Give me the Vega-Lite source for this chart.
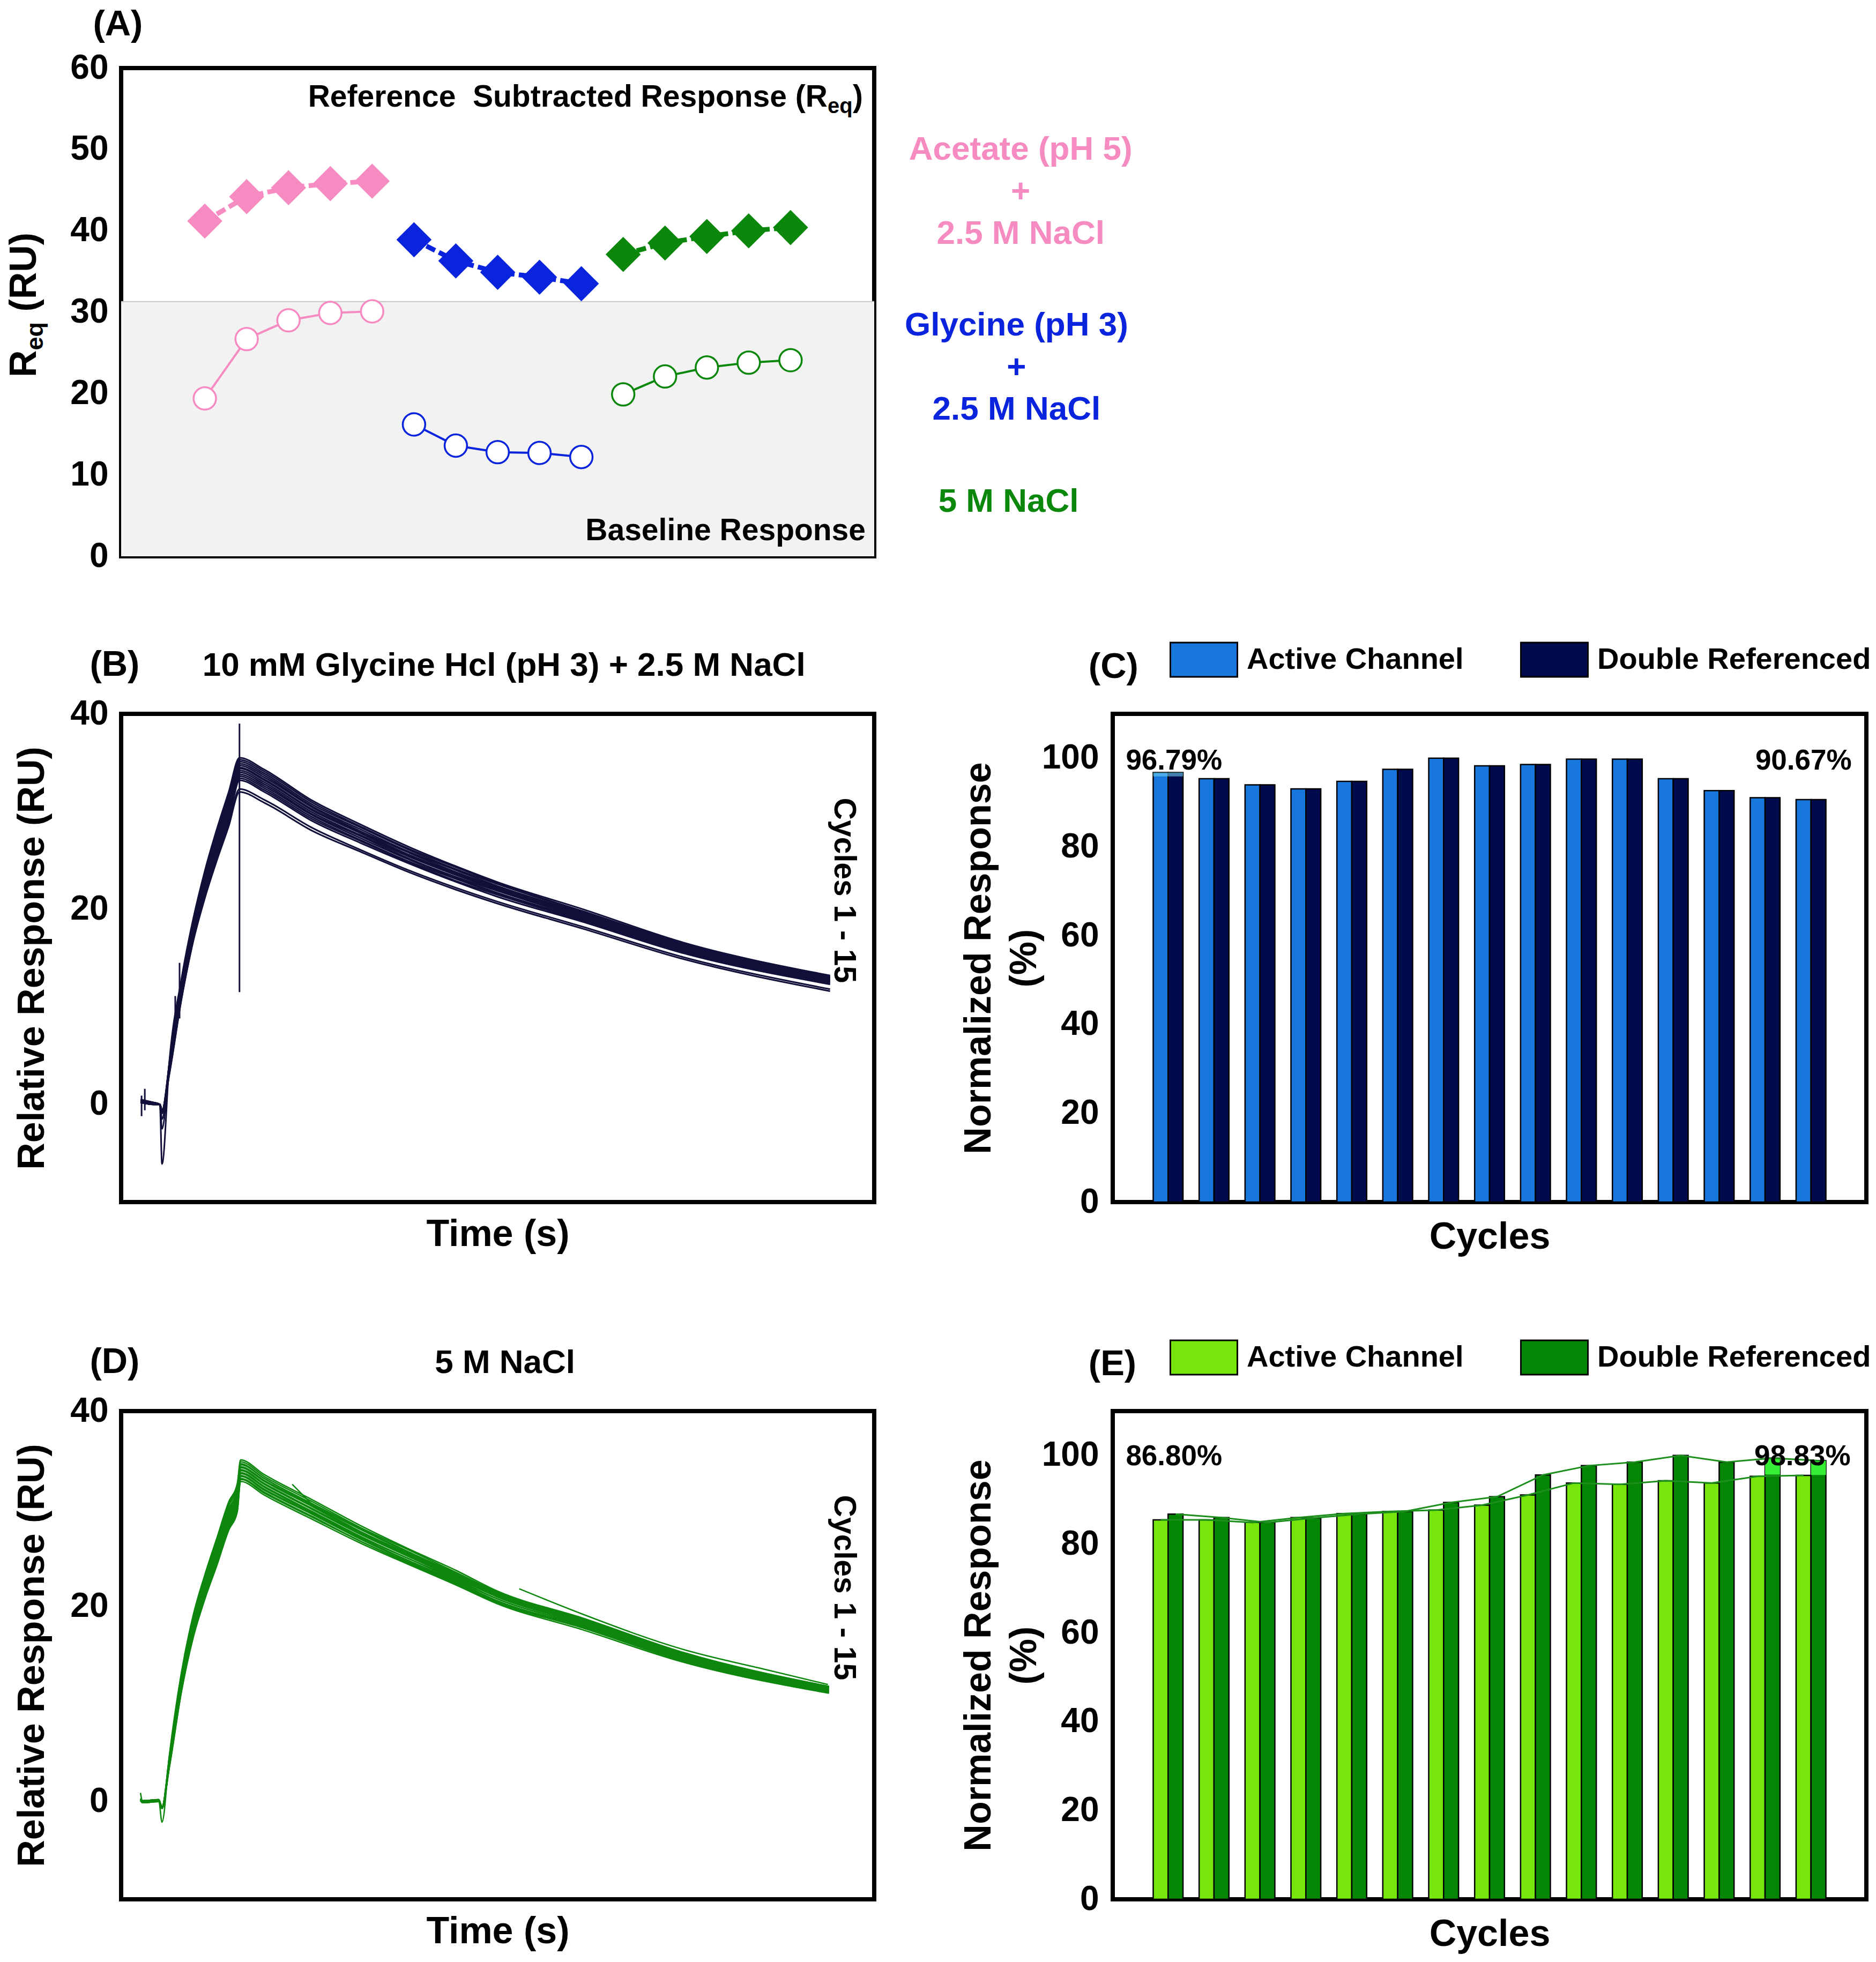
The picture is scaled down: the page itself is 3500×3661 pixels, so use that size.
{
  "$schema": "https://vega.github.io/schema/vega-lite/v6.json",
  "background": "white",
  "padding": {"left": 7, "top": 7, "right": 5, "bottom": 5},
  "columns": 2,
  "spacing": {"row": 100, "column": 445},
  "bounds": "flush",
  "align": "each",
  "resolve": {"scale": {"color": "independent", "stroke": "independent"}, "legend": {"color": "independent", "stroke": "independent"}},
  "config": {
    "font": "Liberation Sans",
    "view": {"stroke": "black", "strokeWidth": 8},
    "axis": {
      "labelFont": "Liberation Sans", "labelFontWeight": "bold", "labelFontSize": 64, "labelColor": "black",
      "titleFont": "Liberation Sans", "titleFontWeight": "bold", "titleFontSize": 70, "titleColor": "black",
      "ticks": false, "tickSize": 0, "domain": false, "grid": false, "labelPadding": 24,
      "labelFlush": false, "labelOverlap": false, "labelBound": false
    },
    "text": {"font": "Liberation Sans", "fontWeight": "bold", "color": "black"},
    "legend": {"labelFont": "Liberation Sans", "labelFontWeight": "bold", "labelColor": "black"}
  },
  "concat": [
    {
      "width": 1405, "height": 911,
      "data": {"values": [
        {"i": 1, "group": "Acetate", "kind": "Reference subtracted", "req": 41.2},
        {"i": 2, "group": "Acetate", "kind": "Reference subtracted", "req": 44.2},
        {"i": 3, "group": "Acetate", "kind": "Reference subtracted", "req": 45.3},
        {"i": 4, "group": "Acetate", "kind": "Reference subtracted", "req": 45.8},
        {"i": 5, "group": "Acetate", "kind": "Reference subtracted", "req": 46.1},
        {"i": 6, "group": "Glycine", "kind": "Reference subtracted", "req": 38.9},
        {"i": 7, "group": "Glycine", "kind": "Reference subtracted", "req": 36.3},
        {"i": 8, "group": "Glycine", "kind": "Reference subtracted", "req": 34.9},
        {"i": 9, "group": "Glycine", "kind": "Reference subtracted", "req": 34.3},
        {"i": 10, "group": "Glycine", "kind": "Reference subtracted", "req": 33.5},
        {"i": 11, "group": "NaCl", "kind": "Reference subtracted", "req": 37.1},
        {"i": 12, "group": "NaCl", "kind": "Reference subtracted", "req": 38.5},
        {"i": 13, "group": "NaCl", "kind": "Reference subtracted", "req": 39.3},
        {"i": 14, "group": "NaCl", "kind": "Reference subtracted", "req": 40.0},
        {"i": 15, "group": "NaCl", "kind": "Reference subtracted", "req": 40.4},
        {"i": 1, "group": "Acetate", "kind": "Baseline", "req": 19.4},
        {"i": 2, "group": "Acetate", "kind": "Baseline", "req": 26.7},
        {"i": 3, "group": "Acetate", "kind": "Baseline", "req": 29.0},
        {"i": 4, "group": "Acetate", "kind": "Baseline", "req": 29.9},
        {"i": 5, "group": "Acetate", "kind": "Baseline", "req": 30.1},
        {"i": 6, "group": "Glycine", "kind": "Baseline", "req": 16.2},
        {"i": 7, "group": "Glycine", "kind": "Baseline", "req": 13.6},
        {"i": 8, "group": "Glycine", "kind": "Baseline", "req": 12.8},
        {"i": 9, "group": "Glycine", "kind": "Baseline", "req": 12.7},
        {"i": 10, "group": "Glycine", "kind": "Baseline", "req": 12.2},
        {"i": 11, "group": "NaCl", "kind": "Baseline", "req": 19.9},
        {"i": 12, "group": "NaCl", "kind": "Baseline", "req": 22.1},
        {"i": 13, "group": "NaCl", "kind": "Baseline", "req": 23.2},
        {"i": 14, "group": "NaCl", "kind": "Baseline", "req": 23.8},
        {"i": 15, "group": "NaCl", "kind": "Baseline", "req": 24.1}
      ]},
      "layer": [
        {
          "data": {"values": [{}]},
          "mark": {"type": "rect", "color": "#F1F2F1"},
          "encoding": {
            "x": {"datum": -1, "type": "quantitative", "scale": {"domain": [-1, 17], "nice": false, "zero": false}, "axis": null},
            "x2": {"datum": 17},
            "y": {"datum": 0, "type": "quantitative", "scale": {"domain": [0, 60], "nice": false}, "axis": {"values": [0, 10, 20, 30, 40, 50, 60], "title": null}},
            "y2": {"datum": 31.3}
          }
        },
        {
          "data": {"values": [{}]},
          "mark": {"type": "rule", "color": "#C6C6C6", "strokeWidth": 2},
          "encoding": {
            "x": {"datum": -1, "type": "quantitative"},
            "x2": {"datum": 17},
            "y": {"datum": 31.3, "type": "quantitative"}
          }
        },
        {
          "transform": [{"filter": "datum.kind === 'Reference subtracted'"}],
          "mark": {"type": "line", "strokeWidth": 9, "strokeDash": [18, 8]},
          "encoding": {
            "x": {"field": "i", "type": "quantitative", "title": null},
            "y": {"field": "req", "type": "quantitative", "title": null},
            "color": {"field": "group", "type": "nominal", "scale": {"domain": ["Acetate", "Glycine", "NaCl"], "range": ["#F68BC1", "#0A24DE", "#0B870B"]}, "legend": null}
          }
        },
        {
          "transform": [{"filter": "datum.kind === 'Baseline'"}],
          "mark": {"type": "line", "strokeWidth": 4},
          "encoding": {
            "x": {"field": "i", "type": "quantitative", "title": null},
            "y": {"field": "req", "type": "quantitative", "title": null},
            "color": {"field": "group", "type": "nominal", "scale": {"domain": ["Acetate", "Glycine", "NaCl"], "range": ["#F68BC1", "#0A24DE", "#0B870B"]}, "legend": null}
          }
        },
        {
          "transform": [{"filter": "datum.kind === 'Reference subtracted'"}],
          "mark": {"type": "point", "shape": "diamond", "size": 4300, "filled": true, "opacity": 1},
          "encoding": {
            "x": {"field": "i", "type": "quantitative", "title": null},
            "y": {"field": "req", "type": "quantitative", "title": null},
            "color": {"field": "group", "type": "nominal", "scale": {"domain": ["Acetate", "Glycine", "NaCl"], "range": ["#F68BC1", "#0A24DE", "#0B870B"]}, "legend": null}
          }
        },
        {
          "transform": [{"filter": "datum.kind === 'Baseline'"}],
          "mark": {"type": "point", "shape": "circle", "size": 1750, "filled": true, "fill": "white", "strokeWidth": 3.5, "opacity": 1},
          "encoding": {
            "x": {"field": "i", "type": "quantitative", "title": null},
            "y": {"field": "req", "type": "quantitative", "title": null},
            "stroke": {"field": "group", "type": "nominal", "scale": {"domain": ["Acetate", "Glycine", "NaCl"], "range": ["#F68BC1", "#0A24DE", "#0B870B"]}, "legend": null}
          }
        },
        {
          "data": {"values": [{}]},
          "mark": {"type": "text", "text": "(A)", "fontSize": 67, "align": "left", "baseline": "alphabetic"},
          "encoding": {"x": {"datum": -1.674}, "y": {"datum": 64.04}}
        },
        {
          "data": {"values": [{}]},
          "mark": {"type": "text", "text": ["Acetate (pH 5)", "+", "2.5 M NaCl"], "fontSize": 62, "lineHeight": 78.5, "align": "center", "baseline": "alphabetic", "color": "#F68BC1"},
          "encoding": {"x": {"datum": 20.5}, "y": {"datum": 48.73}}
        },
        {
          "data": {"values": [{}]},
          "mark": {"type": "text", "text": ["Glycine (pH 3)", "+", "2.5 M NaCl"], "fontSize": 62, "lineHeight": 78.5, "align": "center", "baseline": "alphabetic", "color": "#0A24DE"},
          "encoding": {"x": {"datum": 20.4}, "y": {"datum": 27.11}}
        },
        {
          "data": {"values": [{}]},
          "mark": {"type": "text", "text": "5 M NaCl", "fontSize": 62, "align": "center", "baseline": "alphabetic", "color": "#0B870B"},
          "encoding": {"x": {"datum": 20.21}, "y": {"datum": 5.49}}
        },
        {
          "data": {"values": [{}]},
          "mark": {"type": "text", "text": "Reference\u00a0 Subtracted Response (R", "fontSize": 57, "align": "right", "baseline": "alphabetic"},
          "encoding": {"x": {"datum": 15.885}, "y": {"datum": 55.26}}
        },
        {
          "data": {"values": [{}]},
          "mark": {"type": "text", "text": "eq", "fontSize": 40, "align": "left", "baseline": "alphabetic", "dy": 12},
          "encoding": {"x": {"datum": 15.885}, "y": {"datum": 55.26}}
        },
        {
          "data": {"values": [{}]},
          "mark": {"type": "text", "text": ")", "fontSize": 57, "align": "left", "baseline": "alphabetic", "dx": 47},
          "encoding": {"x": {"datum": 15.885}, "y": {"datum": 55.26}}
        },
        {
          "data": {"values": [{}]},
          "mark": {"type": "text", "text": "Baseline Response", "fontSize": 57, "align": "right", "baseline": "alphabetic"},
          "encoding": {"x": {"datum": 16.795}, "y": {"datum": 2.0}}
        },
        {
          "data": {"values": [{}]},
          "mark": {"type": "text", "text": "R", "fontSize": 70, "angle": 270, "align": "left", "baseline": "alphabetic"},
          "encoding": {"x": {"datum": -3.037}, "y": {"datum": 21.99}}
        },
        {
          "data": {"values": [{}]},
          "mark": {"type": "text", "text": "eq", "fontSize": 45, "angle": 270, "align": "left", "baseline": "alphabetic", "dx": 50.5, "dy": 13},
          "encoding": {"x": {"datum": -3.037}, "y": {"datum": 21.99}}
        },
        {
          "data": {"values": [{}]},
          "mark": {"type": "text", "text": "(RU)", "fontSize": 70, "angle": 270, "align": "left", "baseline": "alphabetic", "dx": 122.5},
          "encoding": {"x": {"datum": -3.037}, "y": {"datum": 21.99}}
        }
      ]
    },
    {
      "width": 10, "height": 10, "view": {"stroke": null},
      "data": {"values": [{}]}, "mark": {"type": "point", "opacity": 0}
    },
    {
      "width": 10, "height": 94, "view": {"stroke": null},
      "data": {"values": [{}]}, "mark": {"type": "point", "opacity": 0}
    },
    {
      "width": 10, "height": 94, "view": {"stroke": null},
      "data": {"values": [{}]}, "mark": {"type": "point", "opacity": 0}
    },
    {
      "width": 1405, "height": 911,
      "layer": [
        {
          "data": {"values": [
            {"t": 18, "c1": 0.5, "c2": 0.3, "c3": 0.2, "c4": 0.4, "c5": 0.3, "c6": 0.2, "c7": 0.3, "c8": 0.4, "c9": 0.2, "c10": 0.3, "c11": 0.3, "c12": 0.2, "c13": 0.4, "c14": 0.3, "c15": 0.2},
            {"t": 30, "c1": 0.2, "c2": 0.1, "c3": 0.0, "c4": 0.1, "c5": 0.2, "c6": 0.0, "c7": 0.1, "c8": 0.1, "c9": 0.0, "c10": 0.2, "c11": 0.1, "c12": 0.0, "c13": 0.1, "c14": 0.1, "c15": 0.0},
            {"t": 36, "c1": 0.0, "c2": 0.0, "c3": 0.0, "c4": 0.0, "c5": 0.0, "c6": 0.0, "c7": 0.0, "c8": 0.0, "c9": 0.0, "c10": 0.0, "c11": 0.0, "c12": 0.0, "c13": 0.0, "c14": 0.0, "c15": 0.0},
            {"t": 38, "c1": -6.1, "c2": -2.5, "c3": -1.5, "c4": -0.8, "c5": -0.6, "c6": -0.9, "c7": -0.7, "c8": -0.8, "c9": -0.6, "c10": -0.9, "c11": -0.7, "c12": -0.8, "c13": -0.6, "c14": -0.9, "c15": -0.7},
            {"t": 45, "c1": 4.6, "c2": 4.5, "c3": 4.4, "c4": 4.3, "c5": 4.2, "c6": 4.1, "c7": 4.0, "c8": 3.9, "c9": 3.8, "c10": 3.7, "c11": 3.6, "c12": 3.5, "c13": 3.4, "c14": 3.3, "c15": 3.2},
            {"t": 56, "c1": 12.8, "c2": 12.6, "c3": 12.5, "c4": 12.3, "c5": 12.2, "c6": 12.0, "c7": 11.9, "c8": 11.7, "c9": 11.6, "c10": 11.4, "c11": 11.3, "c12": 11.1, "c13": 11.0, "c14": 10.8, "c15": 10.7},
            {"t": 67, "c1": 19.0, "c2": 18.8, "c3": 18.7, "c4": 18.5, "c5": 18.4, "c6": 18.2, "c7": 18.0, "c8": 17.9, "c9": 17.7, "c10": 17.5, "c11": 17.4, "c12": 17.2, "c13": 17.0, "c14": 16.8, "c15": 16.7},
            {"t": 78, "c1": 24.0, "c2": 23.8, "c3": 23.6, "c4": 23.4, "c5": 23.2, "c6": 23.0, "c7": 22.8, "c8": 22.6, "c9": 22.4, "c10": 22.2, "c11": 22.0, "c12": 21.8, "c13": 21.6, "c14": 21.4, "c15": 21.2},
            {"t": 89, "c1": 28.2, "c2": 28.0, "c3": 27.8, "c4": 27.5, "c5": 27.3, "c6": 27.1, "c7": 26.9, "c8": 26.6, "c9": 26.4, "c10": 26.2, "c11": 26.0, "c12": 25.7, "c13": 25.5, "c14": 25.3, "c15": 25.0},
            {"t": 100, "c1": 32.0, "c2": 31.7, "c3": 31.5, "c4": 31.2, "c5": 31.0, "c6": 30.7, "c7": 30.5, "c8": 30.2, "c9": 30.0, "c10": 29.7, "c11": 29.5, "c12": 29.2, "c13": 29.0, "c14": 28.7, "c15": 28.5},
            {"t": 110, "c1": 35.5, "c2": 35.3, "c3": 35.1, "c4": 34.9, "c5": 34.7, "c6": 34.5, "c7": 34.4, "c8": 34.2, "c9": 34.0, "c10": 33.8, "c11": 33.6, "c12": 33.4, "c13": 33.2, "c14": 32.3, "c15": 32.0},
            {"t": 133, "c1": 34.3, "c2": 34.1, "c3": 33.9, "c4": 33.7, "c5": 33.5, "c6": 33.3, "c7": 33.2, "c8": 33.0, "c9": 32.8, "c10": 32.6, "c11": 32.4, "c12": 32.2, "c13": 32.0, "c14": 31.2, "c15": 30.9},
            {"t": 178, "c1": 31.1, "c2": 30.9, "c3": 30.7, "c4": 30.5, "c5": 30.4, "c6": 30.2, "c7": 30.1, "c8": 29.9, "c9": 29.7, "c10": 29.6, "c11": 29.4, "c12": 29.2, "c13": 29.0, "c14": 28.3, "c15": 28.0},
            {"t": 222, "c1": 28.7, "c2": 28.5, "c3": 28.4, "c4": 28.2, "c5": 28.0, "c6": 27.9, "c7": 27.8, "c8": 27.6, "c9": 27.5, "c10": 27.3, "c11": 27.1, "c12": 27.0, "c13": 26.8, "c14": 26.1, "c15": 25.9},
            {"t": 267, "c1": 26.4, "c2": 26.2, "c3": 26.1, "c4": 25.9, "c5": 25.8, "c6": 25.6, "c7": 25.5, "c8": 25.4, "c9": 25.2, "c10": 25.1, "c11": 24.9, "c12": 24.8, "c13": 24.7, "c14": 24.0, "c15": 23.8},
            {"t": 311, "c1": 24.4, "c2": 24.3, "c3": 24.1, "c4": 24.0, "c5": 23.8, "c6": 23.7, "c7": 23.6, "c8": 23.5, "c9": 23.3, "c10": 23.2, "c11": 23.1, "c12": 22.9, "c13": 22.8, "c14": 22.2, "c15": 22.0},
            {"t": 349, "c1": 22.8, "c2": 22.7, "c3": 22.6, "c4": 22.4, "c5": 22.3, "c6": 22.2, "c7": 22.1, "c8": 22.0, "c9": 21.9, "c10": 21.7, "c11": 21.6, "c12": 21.5, "c13": 21.3, "c14": 20.8, "c15": 20.6},
            {"t": 429, "c1": 20.0, "c2": 19.8, "c3": 19.7, "c4": 19.6, "c5": 19.5, "c6": 19.4, "c7": 19.3, "c8": 19.2, "c9": 19.1, "c10": 19.0, "c11": 18.9, "c12": 18.8, "c13": 18.7, "c14": 18.2, "c15": 18.0},
            {"t": 522, "c1": 16.6, "c2": 16.5, "c3": 16.4, "c4": 16.3, "c5": 16.2, "c6": 16.1, "c7": 16.0, "c8": 16.0, "c9": 15.9, "c10": 15.8, "c11": 15.7, "c12": 15.6, "c13": 15.5, "c14": 15.1, "c15": 14.9},
            {"t": 659, "c1": 13.2, "c2": 13.1, "c3": 13.0, "c4": 13.0, "c5": 12.9, "c6": 12.8, "c7": 12.8, "c8": 12.7, "c9": 12.6, "c10": 12.6, "c11": 12.5, "c12": 12.4, "c13": 12.3, "c14": 11.8, "c15": 11.6}
          ]},
          "transform": [{"fold": ["c1", "c2", "c3", "c4", "c5", "c6", "c7", "c8", "c9", "c10", "c11", "c12", "c13", "c14", "c15"], "as": ["cycle", "ru"]}],
          "mark": {"type": "line", "color": "#10103A", "strokeWidth": 3, "interpolate": "monotone"},
          "encoding": {
            "x": {"field": "t", "type": "quantitative", "title": "Time (s)", "scale": {"domain": [0, 700], "nice": false, "zero": false}, "axis": {"labels": false, "titlePadding": 26}},
            "y": {"field": "ru", "type": "quantitative", "title": "Relative Response (RU)", "scale": {"domain": [-10, 40], "nice": false}, "axis": {"values": [0, 20, 40], "titlePadding": 34}},
            "detail": {"field": "cycle"}
          }
        },
        {
          "data": {"values": [
            {"t": 110, "lo": 11.5, "hi": 39.0},
            {"t": 54.3, "lo": 8.8, "hi": 14.5},
            {"t": 50.3, "lo": 8.6, "hi": 11.1},
            {"t": 19, "lo": -1.2, "hi": 0.9},
            {"t": 22, "lo": -0.6, "hi": 1.6}
          ]},
          "mark": {"type": "rule", "color": "#10103A", "strokeWidth": 3},
          "encoding": {
            "x": {"field": "t", "type": "quantitative", "title": "Time (s)"},
            "y": {"field": "lo", "type": "quantitative", "title": "Relative Response (RU)"},
            "y2": {"field": "hi"}
          }
        },
        {
          "data": {"values": [{}]},
          "mark": {"type": "text", "text": "(B)", "fontSize": 67, "align": "left", "baseline": "alphabetic"},
          "encoding": {"x": {"datum": -29.2}, "y": {"datum": 43.9}}
        },
        {
          "data": {"values": [{}]},
          "mark": {"type": "text", "text": "10 mM Glycine Hcl (pH 3) + 2.5 M NaCl", "fontSize": 62, "align": "center", "baseline": "alphabetic"},
          "encoding": {"x": {"datum": 355.8}, "y": {"datum": 43.9}}
        },
        {
          "data": {"values": [{}]},
          "mark": {"type": "text", "text": "Cycles 1 - 15", "fontSize": 57, "angle": 90, "align": "left", "baseline": "alphabetic"},
          "encoding": {"x": {"datum": 663}, "y": {"datum": 31.39}}
        }
      ]
    },
    {
      "width": 1406, "height": 911,
      "data": {"values": [
        {"cycle": 1, "channel": "Active Channel", "value": 96.79}, {"cycle": 1, "channel": "Double Referenced", "value": 96.79},
        {"cycle": 2, "channel": "Active Channel", "value": 95.4}, {"cycle": 2, "channel": "Double Referenced", "value": 95.4},
        {"cycle": 3, "channel": "Active Channel", "value": 94.0}, {"cycle": 3, "channel": "Double Referenced", "value": 94.0},
        {"cycle": 4, "channel": "Active Channel", "value": 93.1}, {"cycle": 4, "channel": "Double Referenced", "value": 93.1},
        {"cycle": 5, "channel": "Active Channel", "value": 94.8}, {"cycle": 5, "channel": "Double Referenced", "value": 94.8},
        {"cycle": 6, "channel": "Active Channel", "value": 97.5}, {"cycle": 6, "channel": "Double Referenced", "value": 97.5},
        {"cycle": 7, "channel": "Active Channel", "value": 100.0}, {"cycle": 7, "channel": "Double Referenced", "value": 100.0},
        {"cycle": 8, "channel": "Active Channel", "value": 98.3}, {"cycle": 8, "channel": "Double Referenced", "value": 98.3},
        {"cycle": 9, "channel": "Active Channel", "value": 98.6}, {"cycle": 9, "channel": "Double Referenced", "value": 98.6},
        {"cycle": 10, "channel": "Active Channel", "value": 99.8}, {"cycle": 10, "channel": "Double Referenced", "value": 99.8},
        {"cycle": 11, "channel": "Active Channel", "value": 99.8}, {"cycle": 11, "channel": "Double Referenced", "value": 99.8},
        {"cycle": 12, "channel": "Active Channel", "value": 95.4}, {"cycle": 12, "channel": "Double Referenced", "value": 95.4},
        {"cycle": 13, "channel": "Active Channel", "value": 92.7}, {"cycle": 13, "channel": "Double Referenced", "value": 92.7},
        {"cycle": 14, "channel": "Active Channel", "value": 91.1}, {"cycle": 14, "channel": "Double Referenced", "value": 91.1},
        {"cycle": 15, "channel": "Active Channel", "value": 90.67}, {"cycle": 15, "channel": "Double Referenced", "value": 90.67}
      ]},
      "layer": [
        {
          "transform": [{"filter": "datum.channel === 'Active Channel'"}],
          "mark": {"type": "bar", "width": 27.8, "xOffset": -13.9, "stroke": "black", "strokeWidth": 2.5},
          "encoding": {
            "x": {"field": "cycle", "type": "quantitative", "title": "Cycles", "scale": {"domain": [-0.1473, 16.147], "nice": false, "zero": false}, "axis": {"labels": false, "titlePadding": 31}},
            "y": {"field": "value", "type": "quantitative", "title": ["Normalized Response", "(%)"], "scale": {"domain": [0, 110], "nice": false}, "axis": {"values": [0, 20, 40, 60, 80, 100], "titlePadding": -4, "titleLineHeight": 85, "labelPadding": 26}},
            "color": {"field": "channel", "type": "nominal", "scale": {"domain": ["Active Channel", "Double Referenced"], "range": ["#1777DD", "#000A4C"]},
              "legend": {"orient": "none", "legendX": 106, "legendY": -165, "direction": "horizontal", "title": null, "symbolType": "M-1,-0.512H1V0.512H-1Z", "symbolSize": 15625, "symbolStrokeColor": "black", "symbolStrokeWidth": 3, "symbolOpacity": 1, "labelFontSize": 56, "labelOffset": 16, "columnPadding": 100, "labelLimit": 1000, "padding": 0}}
          }
        },
        {
          "transform": [{"filter": "datum.channel === 'Double Referenced'"}],
          "mark": {"type": "bar", "width": 27.8, "xOffset": 13.9, "stroke": "black", "strokeWidth": 2.5},
          "encoding": {
            "x": {"field": "cycle", "type": "quantitative", "title": "Cycles"},
            "y": {"field": "value", "type": "quantitative", "title": ["Normalized Response", "(%)"]},
            "color": {"field": "channel", "type": "nominal", "scale": {"domain": ["Active Channel", "Double Referenced"], "range": ["#1777DD", "#000A4C"]}}
          }
        },
        {
          "data": {"values": [{"cycle": 1, "lo": 95.9, "hi": 96.79}]},
          "mark": {"type": "bar", "width": 55.6, "color": "#6CCFF2", "opacity": 0.6},
          "encoding": {
            "x": {"field": "cycle", "type": "quantitative", "title": "Cycles"},
            "y": {"field": "lo", "type": "quantitative", "title": ["Normalized Response", "(%)"]},
            "y2": {"field": "hi"}
          }
        },
        {
          "data": {"values": [{}]},
          "mark": {"type": "text", "text": "(C)", "fontSize": 67, "align": "left", "baseline": "alphabetic"},
          "encoding": {"x": {"datum": -0.733}, "y": {"datum": 118.1}}
        },
        {
          "data": {"values": [{}]},
          "mark": {"type": "text", "text": "96.79%", "fontSize": 53, "align": "center", "baseline": "alphabetic"},
          "encoding": {"x": {"datum": 1.128}, "y": {"datum": 97.4}}
        },
        {
          "data": {"values": [{}]},
          "mark": {"type": "text", "text": "90.67%", "fontSize": 53, "align": "center", "baseline": "alphabetic"},
          "encoding": {"x": {"datum": 14.837}, "y": {"datum": 97.4}}
        }
      ]
    },
    {
      "width": 10, "height": 190, "view": {"stroke": null},
      "data": {"values": [{}]}, "mark": {"type": "point", "opacity": 0}
    },
    {
      "width": 10, "height": 190, "view": {"stroke": null},
      "data": {"values": [{}]}, "mark": {"type": "point", "opacity": 0}
    },
    {
      "width": 1405, "height": 911,
      "layer": [
        {
          "data": {"values": [
            {"t": 18, "c1": 0.9, "c2": 0.2, "c3": 0.3, "c4": 0.2, "c5": 0.1, "c6": 0.2, "c7": 0.3, "c8": 0.2, "c9": 0.1, "c10": 0.2, "c11": 0.3, "c12": 0.2, "c13": 0.1, "c14": 0.2, "c15": 0.3},
            {"t": 20, "c1": 0.0, "c2": 0.0, "c3": 0.1, "c4": 0.0, "c5": -0.1, "c6": 0.0, "c7": 0.1, "c8": 0.0, "c9": -0.1, "c10": 0.0, "c11": 0.1, "c12": 0.0, "c13": -0.1, "c14": 0.0, "c15": 0.1},
            {"t": 35, "c1": 0.1, "c2": 0.1, "c3": 0.2, "c4": 0.1, "c5": 0.0, "c6": 0.1, "c7": 0.2, "c8": 0.1, "c9": 0.0, "c10": 0.1, "c11": 0.2, "c12": 0.1, "c13": 0.0, "c14": 0.1, "c15": 0.2},
            {"t": 38, "c1": -2.1, "c2": -0.6, "c3": -0.5, "c4": -0.7, "c5": -0.6, "c6": -0.5, "c7": -0.7, "c8": -0.6, "c9": -0.5, "c10": -0.7, "c11": -0.6, "c12": -0.5, "c13": -0.7, "c14": -0.6, "c15": -0.5},
            {"t": 45, "c1": 4.9, "c2": 4.8, "c3": 4.7, "c4": 4.6, "c5": 4.5, "c6": 4.4, "c7": 4.3, "c8": 4.3, "c9": 4.2, "c10": 4.1, "c11": 4.0, "c12": 3.9, "c13": 3.8, "c14": 3.7, "c15": 3.6},
            {"t": 56, "c1": 13.2, "c2": 13.0, "c3": 12.9, "c4": 12.7, "c5": 12.6, "c6": 12.4, "c7": 12.3, "c8": 12.2, "c9": 12.0, "c10": 11.9, "c11": 11.7, "c12": 11.6, "c13": 11.5, "c14": 11.3, "c15": 11.2},
            {"t": 67, "c1": 19.1, "c2": 18.9, "c3": 18.8, "c4": 18.6, "c5": 18.5, "c6": 18.3, "c7": 18.1, "c8": 18.0, "c9": 17.8, "c10": 17.7, "c11": 17.5, "c12": 17.3, "c13": 17.2, "c14": 17.0, "c15": 16.8},
            {"t": 78, "c1": 23.3, "c2": 23.1, "c3": 22.9, "c4": 22.8, "c5": 22.6, "c6": 22.4, "c7": 22.2, "c8": 22.1, "c9": 21.9, "c10": 21.7, "c11": 21.5, "c12": 21.4, "c13": 21.2, "c14": 21.0, "c15": 20.8},
            {"t": 89, "c1": 27.0, "c2": 26.8, "c3": 26.6, "c4": 26.4, "c5": 26.2, "c6": 26.0, "c7": 25.8, "c8": 25.6, "c9": 25.4, "c10": 25.2, "c11": 25.0, "c12": 24.8, "c13": 24.6, "c14": 24.4, "c15": 24.2},
            {"t": 100, "c1": 30.7, "c2": 30.5, "c3": 30.3, "c4": 30.0, "c5": 29.8, "c6": 29.6, "c7": 29.4, "c8": 29.2, "c9": 29.0, "c10": 28.8, "c11": 28.6, "c12": 28.4, "c13": 28.2, "c14": 28.0, "c15": 27.8},
            {"t": 108, "c1": 32.6, "c2": 32.4, "c3": 32.2, "c4": 32.0, "c5": 31.8, "c6": 31.5, "c7": 31.3, "c8": 31.1, "c9": 30.9, "c10": 30.7, "c11": 30.5, "c12": 30.3, "c13": 30.1, "c14": 29.9, "c15": 29.7},
            {"t": 111, "c1": 35.0, "c2": 34.8, "c3": 34.6, "c4": 34.5, "c5": 34.3, "c6": 34.2, "c7": 34.0, "c8": 33.9, "c9": 33.7, "c10": 33.6, "c11": 33.4, "c12": 33.3, "c13": 33.1, "c14": 33.0, "c15": 32.8},
            {"t": 133, "c1": 33.5, "c2": 33.3, "c3": 33.1, "c4": 33.1, "c5": 32.9, "c6": 32.8, "c7": 32.6, "c8": 32.5, "c9": 32.3, "c10": 32.2, "c11": 32.0, "c12": 31.9, "c13": 31.7, "c14": 31.6, "c15": 31.4},
            {"t": 178, "c1": 30.9, "c2": 30.7, "c3": 30.5, "c4": 30.4, "c5": 30.3, "c6": 30.2, "c7": 30.0, "c8": 29.9, "c9": 29.7, "c10": 29.6, "c11": 29.5, "c12": 29.4, "c13": 29.2, "c14": 29.1, "c15": 28.9},
            {"t": 222, "c1": 28.3, "c2": 28.1, "c3": 28.0, "c4": 27.9, "c5": 27.7, "c6": 27.6, "c7": 27.5, "c8": 27.4, "c9": 27.2, "c10": 27.1, "c11": 27.0, "c12": 26.9, "c13": 26.7, "c14": 26.7, "c15": 26.5},
            {"t": 267, "c1": 25.9, "c2": 25.8, "c3": 25.6, "c4": 25.5, "c5": 25.4, "c6": 25.3, "c7": 25.2, "c8": 25.1, "c9": 24.9, "c10": 24.9, "c11": 24.7, "c12": 24.6, "c13": 24.5, "c14": 24.4, "c15": 24.3},
            {"t": 311, "c1": 23.7, "c2": 23.5, "c3": 23.4, "c4": 23.3, "c5": 23.2, "c6": 23.1, "c7": 23.0, "c8": 22.9, "c9": 22.8, "c10": 22.7, "c11": 22.6, "c12": 22.5, "c13": 22.4, "c14": 22.3, "c15": 22.2},
            {"t": 349, "c1": 21.6, "c2": 21.5, "c3": 21.4, "c4": 21.3, "c5": 21.2, "c6": 21.1, "c7": 21.0, "c8": 21.0, "c9": 20.8, "c10": 20.8, "c11": 20.6, "c12": 20.6, "c13": 20.5, "c14": 20.4, "c15": 20.3},
            {"t": 429, "c1": 18.8, "c2": 18.7, "c3": 18.6, "c4": 18.6, "c5": 18.5, "c6": 18.4, "c7": 18.3, "c8": 18.2, "c9": 18.1, "c10": 18.1, "c11": 18.0, "c12": 17.9, "c13": 17.8, "c14": 17.8, "c15": 17.6},
            {"t": 522, "c1": 15.3, "c2": 15.2, "c3": 15.1, "c4": 15.1, "c5": 15.0, "c6": 14.9, "c7": 14.9, "c8": 14.8, "c9": 14.7, "c10": 14.7, "c11": 14.6, "c12": 14.6, "c13": 14.5, "c14": 14.4, "c15": 14.3},
            {"t": 658, "c1": 11.8, "c2": 11.8, "c3": 11.7, "c4": 11.7, "c5": 11.6, "c6": 11.6, "c7": 11.5, "c8": 11.5, "c9": 11.4, "c10": 11.4, "c11": 11.3, "c12": 11.3, "c13": 11.2, "c14": 11.2, "c15": 11.1}
          ]},
          "transform": [{"fold": ["c1", "c2", "c3", "c4", "c5", "c6", "c7", "c8", "c9", "c10", "c11", "c12", "c13", "c14", "c15"], "as": ["cycle", "ru"]}],
          "mark": {"type": "line", "color": "#0E870E", "strokeWidth": 2.6, "interpolate": "monotone"},
          "encoding": {
            "x": {"field": "t", "type": "quantitative", "title": "Time (s)", "scale": {"domain": [0, 700], "nice": false, "zero": false}, "axis": {"labels": false, "titlePadding": 26}},
            "y": {"field": "ru", "type": "quantitative", "title": "Relative Response (RU)", "scale": {"domain": [-10, 40], "nice": false}, "axis": {"values": [0, 20, 40], "titlePadding": 34}},
            "detail": {"field": "cycle"}
          }
        },
        {
          "data": {"values": [
            {"seg": "a", "t": 159, "ru": 32.5}, {"seg": "a", "t": 168, "ru": 31.5}, {"seg": "a", "t": 176, "ru": 30.6},
            {"seg": "b", "t": 370, "ru": 21.8}, {"seg": "b", "t": 429, "ru": 19.2}, {"seg": "b", "t": 522, "ru": 15.6}, {"seg": "b", "t": 600, "ru": 13.5}, {"seg": "b", "t": 657, "ru": 12.0}
          ]},
          "mark": {"type": "line", "color": "#0E870E", "strokeWidth": 2.5, "interpolate": "monotone"},
          "encoding": {
            "x": {"field": "t", "type": "quantitative", "title": "Time (s)"},
            "y": {"field": "ru", "type": "quantitative", "title": "Relative Response (RU)"},
            "detail": {"field": "seg"}
          }
        },
        {
          "data": {"values": [{}]},
          "mark": {"type": "text", "text": "(D)", "fontSize": 67, "align": "left", "baseline": "alphabetic"},
          "encoding": {"x": {"datum": -29.2}, "y": {"datum": 43.9}}
        },
        {
          "data": {"values": [{}]},
          "mark": {"type": "text", "text": "5 M NaCl", "fontSize": 62, "align": "center", "baseline": "alphabetic"},
          "encoding": {"x": {"datum": 356.8}, "y": {"datum": 43.9}}
        },
        {
          "data": {"values": [{}]},
          "mark": {"type": "text", "text": "Cycles 1 - 15", "fontSize": 57, "angle": 90, "align": "left", "baseline": "alphabetic"},
          "encoding": {"x": {"datum": 663}, "y": {"datum": 31.39}}
        }
      ]
    },
    {
      "width": 1406, "height": 911,
      "data": {"values": [
        {"cycle": 1, "channel": "Active Channel", "value": 85.5}, {"cycle": 1, "channel": "Double Referenced", "value": 86.8},
        {"cycle": 2, "channel": "Active Channel", "value": 85.5}, {"cycle": 2, "channel": "Double Referenced", "value": 86.0},
        {"cycle": 3, "channel": "Active Channel", "value": 84.9}, {"cycle": 3, "channel": "Double Referenced", "value": 84.9},
        {"cycle": 4, "channel": "Active Channel", "value": 86.0}, {"cycle": 4, "channel": "Double Referenced", "value": 85.9},
        {"cycle": 5, "channel": "Active Channel", "value": 86.9}, {"cycle": 5, "channel": "Double Referenced", "value": 86.8},
        {"cycle": 6, "channel": "Active Channel", "value": 87.4}, {"cycle": 6, "channel": "Double Referenced", "value": 87.4},
        {"cycle": 7, "channel": "Active Channel", "value": 87.7}, {"cycle": 7, "channel": "Double Referenced", "value": 89.4},
        {"cycle": 8, "channel": "Active Channel", "value": 88.8}, {"cycle": 8, "channel": "Double Referenced", "value": 90.7},
        {"cycle": 9, "channel": "Active Channel", "value": 91.1}, {"cycle": 9, "channel": "Double Referenced", "value": 95.6},
        {"cycle": 10, "channel": "Active Channel", "value": 93.8}, {"cycle": 10, "channel": "Double Referenced", "value": 97.7},
        {"cycle": 11, "channel": "Active Channel", "value": 93.5}, {"cycle": 11, "channel": "Double Referenced", "value": 98.5},
        {"cycle": 12, "channel": "Active Channel", "value": 94.3}, {"cycle": 12, "channel": "Double Referenced", "value": 100.0},
        {"cycle": 13, "channel": "Active Channel", "value": 93.8}, {"cycle": 13, "channel": "Double Referenced", "value": 98.5},
        {"cycle": 14, "channel": "Active Channel", "value": 95.3}, {"cycle": 14, "channel": "Double Referenced", "value": 99.4},
        {"cycle": 15, "channel": "Active Channel", "value": 95.5}, {"cycle": 15, "channel": "Double Referenced", "value": 98.83}
      ]},
      "layer": [
        {
          "transform": [{"filter": "datum.channel === 'Active Channel'"}],
          "mark": {"type": "bar", "width": 27.8, "xOffset": -13.9, "stroke": "black", "strokeWidth": 2.5},
          "encoding": {
            "x": {"field": "cycle", "type": "quantitative", "title": "Cycles", "scale": {"domain": [-0.1473, 16.147], "nice": false, "zero": false}, "axis": {"labels": false, "titlePadding": 31}},
            "y": {"field": "value", "type": "quantitative", "title": ["Normalized Response", "(%)"], "scale": {"domain": [0, 110], "nice": false}, "axis": {"values": [0, 20, 40, 60, 80, 100], "titlePadding": -4, "titleLineHeight": 85, "labelPadding": 26}},
            "color": {"field": "channel", "type": "nominal", "scale": {"domain": ["Active Channel", "Double Referenced"], "range": ["#77E60A", "#058705"]},
              "legend": {"orient": "none", "legendX": 106, "legendY": -164, "direction": "horizontal", "title": null, "symbolType": "M-1,-0.512H1V0.512H-1Z", "symbolSize": 15625, "symbolStrokeColor": "black", "symbolStrokeWidth": 3, "symbolOpacity": 1, "labelFontSize": 56, "labelOffset": 16, "columnPadding": 100, "labelLimit": 1000, "padding": 0}}
          }
        },
        {
          "transform": [{"filter": "datum.channel === 'Double Referenced'"}],
          "mark": {"type": "bar", "width": 27.8, "xOffset": 13.9, "stroke": "black", "strokeWidth": 2.5},
          "encoding": {
            "x": {"field": "cycle", "type": "quantitative", "title": "Cycles"},
            "y": {"field": "value", "type": "quantitative", "title": ["Normalized Response", "(%)"]},
            "color": {"field": "channel", "type": "nominal", "scale": {"domain": ["Active Channel", "Double Referenced"], "range": ["#77E60A", "#058705"]}}
          }
        },
        {
          "data": {"values": [
            {"cycle": 14, "lo": 95.7, "hi": 99.4},
            {"cycle": 15, "lo": 95.6, "hi": 98.83}
          ]},
          "mark": {"type": "bar", "width": 27.8, "xOffset": 13.9, "color": "#35EE35"},
          "encoding": {
            "x": {"field": "cycle", "type": "quantitative", "title": "Cycles"},
            "y": {"field": "lo", "type": "quantitative", "title": ["Normalized Response", "(%)"]},
            "y2": {"field": "hi"}
          }
        },
        {
          "transform": [{"filter": "datum.channel === 'Active Channel'"}],
          "mark": {"type": "line", "color": "#1C8F1C", "strokeWidth": 3, "xOffset": -13.9},
          "encoding": {
            "x": {"field": "cycle", "type": "quantitative", "title": "Cycles"},
            "y": {"field": "value", "type": "quantitative", "title": ["Normalized Response", "(%)"]}
          }
        },
        {
          "transform": [{"filter": "datum.channel === 'Double Referenced'"}],
          "mark": {"type": "line", "color": "#1C8F1C", "strokeWidth": 3, "xOffset": 13.9},
          "encoding": {
            "x": {"field": "cycle", "type": "quantitative", "title": "Cycles"},
            "y": {"field": "value", "type": "quantitative", "title": ["Normalized Response", "(%)"]}
          }
        },
        {
          "data": {"values": [{}]},
          "mark": {"type": "text", "text": "(E)", "fontSize": 67, "align": "left", "baseline": "alphabetic"},
          "encoding": {"x": {"datum": -0.733}, "y": {"datum": 118.1}}
        },
        {
          "data": {"values": [{}]},
          "mark": {"type": "text", "text": "86.80%", "fontSize": 53, "align": "center", "baseline": "alphabetic"},
          "encoding": {"x": {"datum": 1.128}, "y": {"datum": 97.8}}
        },
        {
          "data": {"values": [{}]},
          "mark": {"type": "text", "text": "98.83%", "fontSize": 53, "align": "center", "baseline": "alphabetic"},
          "encoding": {"x": {"datum": 14.814}, "y": {"datum": 97.8}}
        }
      ]
    }
  ]
}
